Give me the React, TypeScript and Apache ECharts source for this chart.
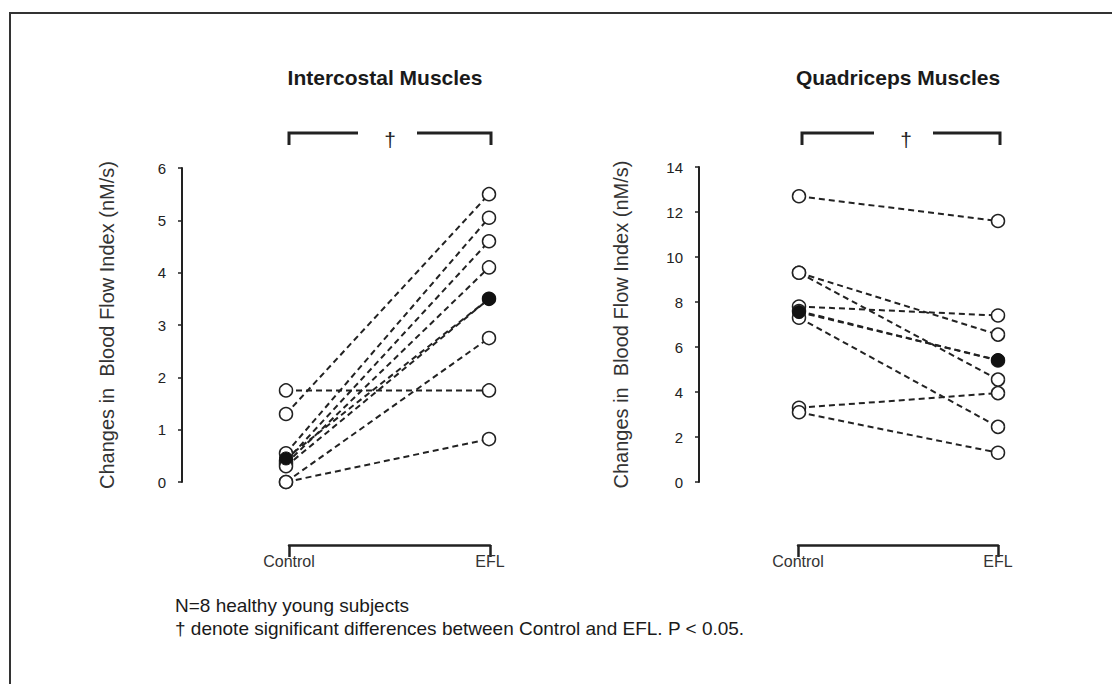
import React, { useEffect, useRef } from "react";
import * as echarts from "echarts";

// ---- data ----
const categories = ["Control", "EFL"];
const panelTitles = ["Intercostal Muscles", "Quadriceps Muscles"];
const yAxisName = "Changes in  Blood Flow Index (nM/s)";
const intercostalControl = [1.75, 1.3, 0.55, 0.4, 0.35, 0.3, 0.0, 0.0];
const intercostalEFL = [1.75, 5.5, 5.05, 4.6, 4.1, 3.5, 2.75, 0.82];
const intercostalMean = [0.45, 3.5];
const quadricepsControl = [12.7, 9.3, 9.3, 7.8, 7.6, 7.3, 3.3, 3.1];
const quadricepsEFL = [11.6, 6.55, 4.55, 7.4, 5.4, 2.45, 3.95, 1.3];
const quadricepsMean = [7.55, 5.42];
const intercostalYMax = 6;
const intercostalYStep = 1;
const quadricepsYMax = 14;
const quadricepsYStep = 2;
const footnotes = [
  "N=8 healthy young subjects",
  "\u2020 denote significant differences between Control and EFL. P < 0.05.",
];
const dagger = "\u2020";

const FONT = "'Liberation Sans', Arial, Helvetica, sans-serif";
const INK = "#222";

// panel geometry (pixels)
const panels = [
  { axisX: 182, cx: 286, ex: 489, top: 168, bottom: 482, titleX: 380, nameGap: 65 },
  { axisX: 699, cx: 799, ex: 998, top: 167, bottom: 482, titleX: 893, nameGap: 68 },
];

function mainGrid(p: any) {
  const scale = p.ex - p.cx;
  const a = -(p.cx - p.axisX) / scale;
  const b = 1.12;
  return {
    grid: { left: p.axisX, top: p.top, width: scale * (b - a), height: p.bottom - p.top, outerBoundsMode: "none" },
    min: a,
    max: b,
  };
}

export default function App() {
  const ref = useRef<HTMLDivElement>(null);
  useEffect(() => {
    if (!ref.current) return;
    const chart = echarts.init(ref.current, null, { renderer: "svg" });

    const g0 = mainGrid(panels[0]);
    const g1 = mainGrid(panels[1]);

    const lineStyle = { color: INK, width: 2, type: [6, 4] as any };
    const openItem = { color: "#fff", borderColor: INK, borderWidth: 1.5 };
    const subjectSeries = (ctrl: number[], efl: number[], axisIndex: number) =>
      ctrl.map((c, i) => ({
        type: "line",
        xAxisIndex: axisIndex,
        yAxisIndex: axisIndex,
        data: [
          [0, c],
          [1, efl[i]],
        ],
        symbol: "circle",
        symbolSize: 13,
        lineStyle,
        itemStyle: openItem,
        z: 2,
        silent: true,
      }));
    const meanSeries = (m: number[], axisIndex: number) => ({
      type: "line",
      xAxisIndex: axisIndex,
      yAxisIndex: axisIndex,
      data: [
        [0, m[0]],
        [1, m[1]],
      ],
      symbol: "circle",
      symbolSize: 13,
      lineStyle,
      itemStyle: { color: "#111", borderColor: "#111", borderWidth: 1 },
      z: 3,
      silent: true,
    });

    const yAxisCommon = (max: number, step: number, gridIndex: number, gap: number) => ({
      gridIndex,
      type: "value",
      min: 0,
      max,
      interval: step,
      axisLine: { show: true, onZero: false, lineStyle: { color: INK, width: 2 } },
      axisTick: { show: true, length: 4, lineStyle: { color: INK, width: 1.5 } },
      axisLabel: { fontSize: 15, color: "#222", margin: 16, fontFamily: FONT },
      splitLine: { show: false },
      name: yAxisName,
      nameLocation: "middle",
      nameGap: gap,
      nameTextStyle: { fontSize: 20, color: "#333", fontFamily: FONT },
    });

    const bracketX = (gridIndex: number) => ({
      gridIndex,
      type: "value",
      min: 0,
      max: 1,
      interval: 1,
      position: "top",
      axisLine: { show: true, lineStyle: { color: INK, width: 2.5 } },
      axisTick: { show: true, inside: true, length: 12, lineStyle: { color: INK, width: 2.5 } },
      axisLabel: {
        inside: true,
        margin: 20,
        fontSize: 16,
        color: "#333",
        fontFamily: FONT,
        formatter: (v: number) => categories[Math.round(v)] ?? "",
      },
      splitLine: { show: false },
    });

    const topBracket = (p: any, dx: number) => {
      const y0 = 133;
      const y1 = 145;
      const L = p.cx + 3;
      const R = p.ex + 2;
      const mid = (L + R) / 2 + dx;
      return [
        {
          type: "polyline",
          shape: { points: [[L, y1], [L, y0], [mid - 32, y0]] },
          style: { stroke: INK, lineWidth: 3, fill: null },
        },
        {
          type: "polyline",
          shape: { points: [[mid + 27, y0], [R, y0], [R, y1]] },
          style: { stroke: INK, lineWidth: 3, fill: null },
        },
        {
          type: "text",
          x: mid,
          y: 139,
          style: { text: dagger, fontSize: 21, fill: INK, align: "center", verticalAlign: "middle", fontFamily: FONT },
        },
      ];
    };

    const option: any = {
      animation: false,
      backgroundColor: "#fff",
      textStyle: { fontFamily: FONT },
      title: panelTitles.map((t, i) => ({
        text: t,
        left: panels[i].titleX,
        top: 62,
        textAlign: "center",
        textStyle: { fontSize: 21, fontWeight: "bold", color: "#1a1a1a", fontFamily: FONT },
      })),
      grid: [
        g0.grid,
        g1.grid,
        { left: 289, top: 533, width: 201, height: 12, outerBoundsMode: "none" },
        { left: 798, top: 533, width: 200, height: 12, outerBoundsMode: "none" },
      ],
      xAxis: [
        { gridIndex: 0, type: "value", min: g0.min, max: g0.max, show: false },
        { gridIndex: 1, type: "value", min: g1.min, max: g1.max, show: false },
        bracketX(2),
        bracketX(3),
      ],
      yAxis: [
        yAxisCommon(intercostalYMax, intercostalYStep, 0, panels[0].nameGap),
        yAxisCommon(quadricepsYMax, quadricepsYStep, 1, panels[1].nameGap),
        { gridIndex: 2, type: "value", min: 0, max: 1, show: false },
        { gridIndex: 3, type: "value", min: 0, max: 1, show: false },
      ],
      series: [
        ...subjectSeries(intercostalControl, intercostalEFL, 0),
        meanSeries(intercostalMean, 0),
        ...subjectSeries(quadricepsControl, quadricepsEFL, 1),
        meanSeries(quadricepsMean, 1),
      ],
      graphic: [
        {
          type: "rect",
          shape: { x: 10, y: 13, width: 1200, height: 800 },
          style: { stroke: "#333", lineWidth: 2, fill: null },
          z: -10,
        },
        ...topBracket(panels[0], 0),
        ...topBracket(panels[1], 5),
        ...footnotes.map((t, i) => ({
          type: "text",
          x: 175,
          y: 605 + i * 23,
          style: { text: t, fontSize: 19, fill: "#1a1a1a", verticalAlign: "middle", fontFamily: FONT },
        })),
      ],
    };
    chart.setOption(option);
    return () => chart.dispose();
  }, []);

  return (
    <div
      ref={ref}
      style={{ position: "fixed", left: 0, top: 0, width: 1112, height: 684, background: "#fff" }}
    />
  );
}
